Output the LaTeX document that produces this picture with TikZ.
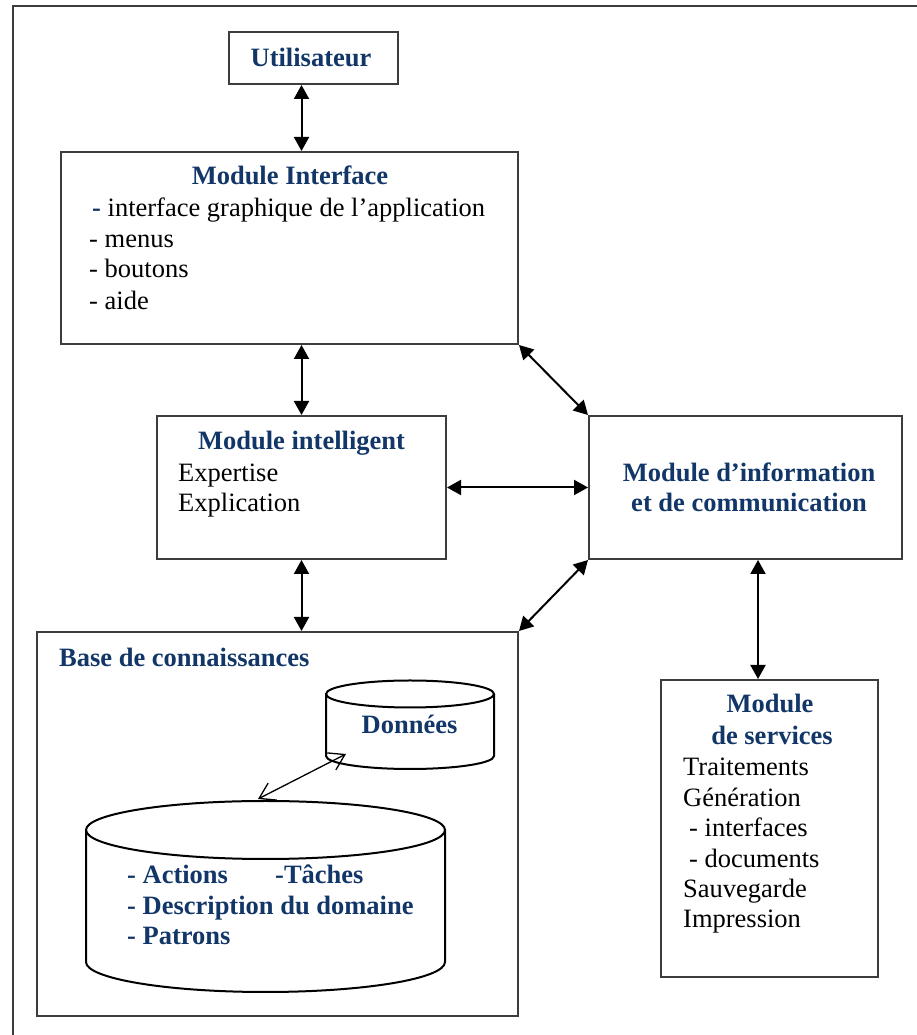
\documentclass[tikz,border=0pt]{standalone}
\usepackage{fontspec}
\setmainfont{Liberation Serif}
\usetikzlibrary{arrows.meta}
\definecolor{navy}{RGB}{18,54,104}
\definecolor{edge}{RGB}{60,60,60}

\begin{document}
\begin{tikzpicture}[x=1pt,y=1pt,
  box/.style={draw=edge,line width=2pt,inner sep=0pt},
  txt/.style={inner sep=0pt,font=\fontsize{26.5}{31}\selectfont},
  ttl/.style={txt,font=\fontsize{26.5}{31}\selectfont\bfseries,text=navy},
  link/.style={{Triangle[length=14pt,width=15pt]}-{Triangle[length=14pt,width=15pt]},line width=2pt},
  thinlink/.style={{Straight Barb[length=15pt,width=19pt]}-{Straight Barb[length=15pt,width=19pt]},line width=1.3pt},
  cyl/.style={line width=2pt}]
\useasboundingbox (0,0) rectangle (916,1035);

% outer frame (top and left sides)
\draw[edge,line width=2pt] (12.5,0) |- (920,1028.5);

% boxes
\node[box,minimum width=169pt,minimum height=52pt] (user) at (313.5,977) {};
\node[box,minimum width=457pt,minimum height=192pt] (iface) at (289.5,787) {};
\node[box,minimum width=289pt,minimum height=143pt] (intel) at (301.5,547.5) {};
\node[box,minimum width=313pt,minimum height=143pt] (info) at (745.5,547.5) {};
\node[box,minimum width=481pt,minimum height=384pt] (base) at (277.5,211) {};
\node[box,minimum width=217pt,minimum height=297pt] (serv) at (769.5,206.5) {};

% cylinders inside the knowledge base
\draw[cyl] (326,341) -- (326,279) arc[start angle=180,end angle=360,x radius=84,y radius=13] -- (494,341);
\draw[cyl] (410,341) ellipse[x radius=84,y radius=13.5];
\draw[cyl] (86,205) -- (86,73) arc[start angle=180,end angle=360,x radius=179.5,y radius=30] -- (445,205);
\draw[cyl] (265.5,205) ellipse[x radius=179.5,y radius=29];

% texts
\node[ttl,anchor=base] (tuser) at (311,968) {Utilisateur};

\node[ttl,anchor=base] (tiface) at (290,850) {Module Interface};
\node[txt,anchor=base west] (i1) at (92,818) {{\color{navy}\bfseries -} interface graphique de l’application};
\node[txt,anchor=base west] (i2) at (89,787) {- menus};
\node[txt,anchor=base west] (i3) at (89,757) {- boutons};
\node[txt,anchor=base west] (i4) at (89,725) {- aide};

\node[ttl,anchor=base] (tintel) at (301.5,585) {Module intelligent};
\node[txt,anchor=base west] (e1) at (178,553) {Expertise};
\node[txt,anchor=base west] (e2) at (178,523) {Explication};

\node[ttl,anchor=base] (tinfo1) at (749,553) {Module d’information};
\node[ttl,anchor=base] (tinfo2) at (749,523) {et de communication};

\node[ttl,anchor=base] (tserv1) at (770,322) {Module};
\node[ttl,anchor=base] (tserv2) at (772,290) {de services};
\node[txt,anchor=base west] (s1) at (683,259) {Traitements};
\node[txt,anchor=base west] (s2) at (683,228) {Génération};
\node[txt,anchor=base west] (s3) at (689,198) {- interfaces};
\node[txt,anchor=base west] (s4) at (689,167) {- documents};
\node[txt,anchor=base west] (s5) at (683,137) {Sauvegarde};
\node[txt,anchor=base west] (s6) at (683,107) {Impression};

\node[ttl,anchor=base west] (tbase) at (59,368) {Base de connaissances};
\node[ttl,anchor=base] (tdata) at (409.5,301) {Données};
\node[ttl,anchor=base west] (k1) at (127,151) {- Actions};
\node[ttl,anchor=base west] (k2) at (275,151) {-Tâches};
\node[ttl,anchor=base west] (k3) at (127,120) {- Description du domaine};
\node[ttl,anchor=base west] (k4) at (127,90) {- Patrons};

% connectors
\coordinate (sx) at (758,0);
\draw[link] (user.south -| intel.north) -- (iface.north -| intel.north);
\draw[link] (iface.south -| intel.north) -- (intel.north);
\draw[link] (intel.south) -- (base.north -| intel.south);
\draw[link] (iface.south east) -- (info.north west);
\draw[link] (intel.east) -- (info.west);
\draw[link] (info.south west) -- (base.north east);
\draw[link] (info.south -| sx) -- (serv.north -| sx);

\coordinate (dlow) at (258,236);
\coordinate (dup) at (346,281);
\draw[thinlink] (dlow) -- (dup);
\end{tikzpicture}
\end{document}
